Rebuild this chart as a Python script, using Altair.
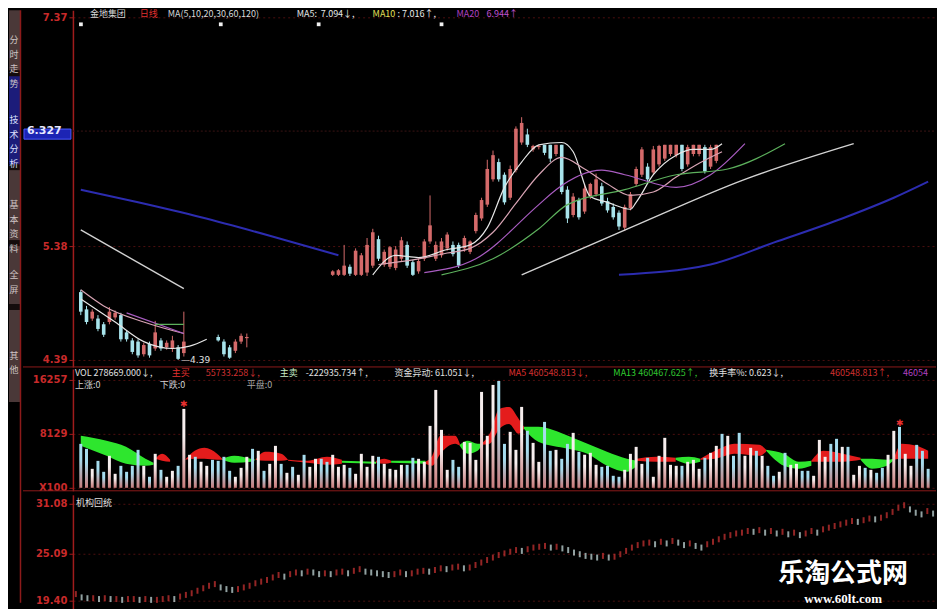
import altair as alt
import pandas as pd

# ---------------- layout constants ----------------
X_DOMAIN = [-0.5, 148.5]
W = 864
H1, H2, H3 = 357, 122, 114
AX_EXT = 50
RED_TXT = "#c82a2a"
AXIS_RED = "#a01c1c"
UP_COL = "#d46a6a"
DN_COL = "#a8e4ec"

# ---------------- price candles ----------------
candle_day = list(range(0, 19)) + list(range(24, 30)) + list(range(44, 112))
candle_open = [4.98, 4.83, 4.75, 4.75, 4.70, 4.72, 4.76, 4.78, 4.63, 4.56, 4.55, 4.44, 4.53, 4.49, 4.56, 4.50, 4.49, 4.50, 4.45,
               4.59, 4.55, 4.50, 4.47, 4.55, 4.58,
               5.13, 5.13, 5.13, 5.20, 5.13, 5.13, 5.15, 5.21, 5.44, 5.22, 5.20, 5.19, 5.27, 5.39, 5.24, 5.16, 5.27, 5.42, 5.27, 5.30,
               5.36, 5.39, 5.39, 5.36, 5.33, 5.51, 5.62, 5.74, 5.96, 6.11, 6.00, 5.80, 6.04, 6.28, 6.35, 6.22,
               6.24, 6.26, 6.26, 6.18, 6.26, 5.87, 5.65, 5.78, 5.68, 5.81, 5.83, 5.90, 5.77, 5.72, 5.67, 5.54, 5.71, 5.92, 6.00, 6.07,
               6.02, 6.09, 6.14, 6.18, 6.17, 6.26, 6.09, 6.18, 6.18, 6.24, 6.07, 6.12]
candle_high = [5.00, 4.86, 4.83, 4.78, 4.72, 4.85, 4.82, 4.80, 4.65, 4.58, 4.57, 4.54, 4.55, 4.73, 4.58, 4.56, 4.60, 4.52, 4.81,
               4.61, 4.57, 4.52, 4.57, 4.62, 4.62,
               5.17, 5.18, 5.39, 5.22, 5.36, 5.32, 5.45, 5.53, 5.47, 5.35, 5.38, 5.38, 5.46, 5.42, 5.26, 5.27, 5.44, 5.82, 5.42, 5.45,
               5.50, 5.42, 5.41, 5.47, 5.43, 5.67, 5.80, 6.13, 6.21, 6.14, 6.02, 6.08, 6.42, 6.50, 6.40, 6.26,
               6.26, 6.26, 6.26, 6.26, 6.26, 5.90, 5.84, 5.80, 5.92, 5.93, 6.01, 5.93, 5.80, 5.75, 5.69, 5.74, 5.85, 6.07, 6.24, 6.10,
               6.25, 6.26, 6.26, 6.26, 6.26, 6.26, 6.26, 6.26, 6.26, 6.26, 6.26, 6.26]
candle_low = [4.78, 4.70, 4.73, 4.64, 4.59, 4.70, 4.74, 4.55, 4.55, 4.44, 4.41, 4.42, 4.41, 4.47, 4.47, 4.48, 4.46, 4.39, 4.42,
              4.55, 4.42, 4.40, 4.45, 4.53, 4.50,
              5.12, 5.12, 5.12, 5.12, 5.12, 5.12, 5.12, 5.19, 5.25, 5.20, 5.18, 5.17, 5.25, 5.19, 5.12, 5.14, 5.25, 5.40, 5.25, 5.28,
              5.34, 5.29, 5.19, 5.33, 5.31, 5.49, 5.60, 5.72, 5.94, 5.94, 5.74, 5.78, 6.02, 6.26, 6.24, 6.20,
              6.22, 6.17, 6.11, 6.16, 5.83, 5.58, 5.63, 5.61, 5.66, 5.79, 5.81, 5.73, 5.67, 5.61, 5.52, 5.51, 5.69, 5.90, 5.98, 5.94,
              6.00, 6.07, 6.12, 6.16, 6.15, 6.03, 6.07, 6.16, 6.16, 6.01, 6.05, 6.10]
candle_close = [4.81, 4.72, 4.81, 4.66, 4.61, 4.81, 4.80, 4.57, 4.57, 4.46, 4.43, 4.52, 4.43, 4.63, 4.49, 4.54, 4.56, 4.40, 4.55,
                4.56, 4.44, 4.41, 4.55, 4.60, 4.59,
                5.16, 5.17, 5.21, 5.14, 5.34, 5.30, 5.39, 5.50, 5.27, 5.33, 5.37, 5.35, 5.43, 5.21, 5.13, 5.25, 5.42, 5.56, 5.39, 5.42,
                5.48, 5.31, 5.21, 5.45, 5.42, 5.65, 5.78, 6.05, 6.17, 5.96, 5.76, 6.05, 6.40, 6.45, 6.26, 6.25,
                6.25, 6.19, 6.14, 6.26, 5.85, 5.62, 5.81, 5.63, 5.88, 5.92, 5.96, 5.75, 5.69, 5.63, 5.55, 5.72, 5.83, 6.05, 6.22, 5.96,
                6.22, 6.25, 6.26, 6.26, 6.26, 6.05, 6.24, 6.26, 6.26, 6.03, 6.24, 6.26]

# ---------------- moving averages (readings) ----------------
ma_names = ["MA5", "MA10", "MA20", "MA30", "MA60", "MA120"]
ma_colors = ["#e6e6e6", "#d8a4b4", "#a85cc0", "#5cb05c", "#d2d2d2", "#2c2cb0"]
ma_widths = [1.2, 1.2, 1.2, 1.2, 1.4, 2.0]
ma5_a_day = [0, 6, 11, 16, 19, 22]
ma5_a_val = [4.92, 4.72, 4.55, 4.49, 4.51, 4.57]
ma5_b_day = [51, 55, 59, 64, 68, 71, 74, 77, 80, 84, 86, 89, 92, 96, 97, 100, 104, 107, 110, 112]
ma5_b_val = [5.13, 5.30, 5.28, 5.35, 5.39, 5.54, 5.89, 6.11, 6.26, 6.28, 6.20, 5.81, 5.76, 5.70, 5.76, 6.00, 6.17, 6.22, 6.22, 6.27]
ma10_a_day = [0, 4, 11, 18]
ma10_a_val = [5.00, 4.86, 4.72, 4.62]
ma10_b_day = [52, 58, 64, 68, 72, 76, 80, 84, 88, 92, 96, 100, 104, 108, 112]
ma10_b_val = [5.22, 5.26, 5.32, 5.36, 5.50, 5.75, 6.00, 6.15, 6.05, 5.92, 5.82, 5.85, 5.98, 6.10, 6.20]
ma20_a_day = [8, 18]
ma20_a_val = [4.80, 4.62]
ma20_b_day = [60, 69, 80, 83, 91, 95, 104, 110, 116]
ma20_b_val = [5.15, 5.27, 5.74, 5.87, 6.04, 6.00, 5.89, 6.00, 6.27]
ma30_a_day = [13, 18]
ma30_a_val = [4.70, 4.70]
ma30_b_day = [63, 72, 80, 85, 95, 104, 113, 123]
ma30_b_val = [5.13, 5.27, 5.53, 5.74, 5.87, 6.00, 6.05, 6.27]
ma60_a_day = [0, 18]
ma60_a_val = [5.52, 5.01]
ma60_b_day = [77, 96, 116, 135]
ma60_b_val = [5.13, 5.54, 5.96, 6.27]
ma120_a_day = [0, 10, 21, 33, 45]
ma120_a_val = [5.87, 5.76, 5.63, 5.47, 5.30]
ma120_b_day = [94, 110, 121, 133, 142, 148]
ma120_b_val = [5.13, 5.22, 5.41, 5.62, 5.80, 5.94]

# ---------------- volume ----------------
volume = [6620, 5870, 2860, 4060, 2410, 4820, 2110, 3310, 2410, 3310, 5720, 3310, 1660, 5120, 2710, 1660, 2560, 3310, 11890, 4970,
          4670, 3910, 3310, 4210, 4060, 4670, 2560, 1660, 3010, 4670, 5870, 5570, 2560, 3610, 6320, 3610, 2260, 3160, 1960, 4970,
          3160, 4370,
          4370, 3910, 4970, 3160, 3460, 3010, 2110, 5120, 3160, 4820, 4670, 3610, 2860, 2710, 3460, 3460, 4520, 4370, 3910, 9330,
          14750, 8730, 2710, 4210, 3160, 6920, 6770, 4210, 14450, 7830, 15500, 16100, 6620, 8430, 5720, 12190, 8580, 6770, 3910, 9930,
          5570, 5720, 4370, 6620, 8280, 5420, 4970, 5270, 3460, 3160, 3310, 1810, 1660, 2710, 5120, 6170,
          3610, 4520, 1660, 4820, 7530, 3460, 3310, 3310, 3910, 4210, 2860, 4520, 5270, 6320, 8130, 7830, 4820, 8280, 4820, 6020,
          5570, 4820, 3310, 1810, 2410, 5270, 3460, 3610, 2560, 2560, 1810, 7220, 4670, 6620, 7380, 6170, 6170, 1960, 3310, 3010,
          2710, 2260, 3010, 4970, 8580, 9180, 5120, 3310, 6470, 5570, 2860]
volume_dir = ("ddudduuddddududuudu" + "uduud" + "ddduuu" + "duduudududuudd"
              + "uuuduuuudu" + "uuudduuuuu" + "udduuuuuud" + "duuudu"
              + "uddudduduu" + "udddduuuud" + "uuuuuduuud" + "uu"
              + "dudduududd" + "uduudduuud" + "duduududdu" + "uduuddd")
vol_mark_day = [18, 143]
vol_mark_val = [12600, 9800]

# volume bands (green / red ribbons)
band_kind = "grrgrrgrgrgrgrgrgrgr"
band_day = [[0, 4.5, 7.9, 11.3, 12.7], [13, 14.2, 15.6], [18.2, 19.9, 21.6, 23.8, 24.7], [24.7, 26.8, 29.7, 30.5],
            [30.5, 32.2, 35, 36.2], [36.2, 39.6, 43, 45.6], [45.6, 51.6], [51.6, 53, 54.2], [54.2, 60.2],
            [60.2, 61.4, 62.8, 65.4, 66.2], [66.2, 67.6, 69.3, 70], [70, 71.4, 73.1, 74.8, 76.5, 77.4],
            [77.4, 79.9, 85.1, 88.5, 91.9, 95.4, 97.1], [97.1, 100.5, 103.9], [103.9, 106.2, 108.2],
            [108.2, 110.8, 114.2, 118.5, 119.7], [119.7, 122.8, 125.4, 127.6], [127.6, 129.7, 133.1, 136.2],
            [136.2, 138.2, 140.8, 142], [142, 143.4, 146, 148]]
band_hi = [[7826, 7074, 6171, 4365, 3763], [4365, 5117, 4214], [4214, 5569, 6020, 5117, 4365], [4365, 4816, 4365, 4214],
           [4214, 5418, 5117, 4214], [4214, 4064, 4666, 4214], [4064, 3913], [4064, 4365, 4064], [4064, 4064],
           [3913, 4816, 7826, 7826, 6622], [6472, 7074, 6622, 6622], [6622, 8127, 11890, 12190, 10385, 9181],
           [9181, 9181, 7826, 6622, 5418, 4365, 4064], [4365, 4666, 4515], [4515, 4666, 4365],
           [4365, 5569, 6622, 6472, 5719], [5719, 5117, 3913, 4064], [4064, 5569, 5117, 4515],
           [4365, 4365, 4214, 4365], [4365, 6622, 6321, 5569]]
band_lo = [[6321, 4816, 3612, 3311, 3462], [4365, 4064, 3913], [4214, 4365, 4365, 4214, 4214], [4214, 3763, 3913, 4214],
           [4214, 4064, 4064, 4214], [4064, 3763, 3462, 3612], [3763, 3612], [3763, 3612, 3763], [3763, 3612],
           [3612, 3311, 5117, 6622, 6321], [6321, 5117, 5569, 6321], [6472, 6622, 8880, 9632, 8127, 8880],
           [8880, 6923, 5870, 5117, 3311, 2408, 3311], [4064, 3913, 3913], [4214, 3612, 3913],
           [4214, 4365, 5117, 4816, 5418], [5569, 3311, 2860, 3311], [3913, 3913, 3913, 4214],
           [4214, 2860, 3311, 4214], [4214, 4365, 4365, 4365]]

# ---------------- lower indicator (机构回统) ----------------
inst_value = ([20.2, 19.8, 19.7, 19.7, 19.6, 19.7, 19.6, 19.6, 19.5, 19.6, 19.6, 19.5, 19.6, 19.5, 19.5, 19.6, 19.7, 19.6]
              + [19.9, 20.1, 20.3, 20.6, 20.9, 21.2, 21.4]
              + [21.0, 20.8, 20.7, 20.8]
              + [21.0, 21.2, 21.5, 21.7, 21.9, 22.2, 22.5, 22.3, 22.6, 22.8, 22.7, 22.9, 22.8, 22.6]
              + [22.7, 22.6, 22.8, 22.9, 22.7, 23.0, 23.2, 22.9, 22.8, 22.7, 22.6, 22.5, 22.6, 22.8, 22.6, 22.7, 22.9, 23.0, 22.9]
              + [23.1, 23.3, 23.2, 23.4, 23.5, 23.3, 23.4]
              + [23.7, 24.0, 24.3, 24.6, 24.9, 25.1, 25.3, 25.5, 25.4, 25.6, 25.8]
              + [25.9, 26.0, 25.8, 25.9, 25.7]
              + [25.5, 25.2, 25.0, 24.8, 24.7, 24.6, 24.8, 24.6, 24.7]
              + [25.0, 25.4, 25.8, 26.1, 26.3]
              + [26.4, 26.2, 26.5, 26.3, 26.6, 26.4, 26.1, 26.3, 26.0, 25.8, 26.2, 26.5]
              + [26.8, 27.1, 27.3, 27.5, 27.6, 27.8, 27.7, 27.9, 27.6, 27.8, 27.5, 27.7]
              + [27.4, 27.6, 27.3, 27.5, 27.8, 27.6, 28.0, 28.2, 28.4]
              + [28.6, 28.8, 29.0, 28.9, 29.1, 29.3, 29.2, 29.4]
              + [29.7, 30.1, 30.6, 30.9]
              + [30.4, 30.0, 29.8, 30.2, 29.9])

# ---------------- tables ----------------
candles = pd.DataFrame({"day": candle_day, "o": candle_open, "h": candle_high,
                        "l": candle_low, "c": candle_close})
candles["col"] = [UP_COL if c >= o else DN_COL for o, c in zip(candles["o"], candles["c"])]

ma_rows = []
ma_segments = [
    ("MA5", ma5_a_day, ma5_a_val), ("MA5", ma5_b_day, ma5_b_val),
    ("MA10", ma10_a_day, ma10_a_val), ("MA10", ma10_b_day, ma10_b_val),
    ("MA20", ma20_a_day, ma20_a_val), ("MA20", ma20_b_day, ma20_b_val),
    ("MA30", ma30_a_day, ma30_a_val), ("MA30", ma30_b_day, ma30_b_val),
    ("MA60", ma60_a_day, ma60_a_val), ("MA60", ma60_b_day, ma60_b_val),
    ("MA120", ma120_a_day, ma120_a_val), ("MA120", ma120_b_day, ma120_b_val),
]
ma_col = dict(zip(ma_names, ma_colors))
ma_w = dict(zip(ma_names, ma_widths))
for si, (nm, dd, vv) in enumerate(ma_segments):
    for d, v in zip(dd, vv):
        ma_rows.append({"name": nm, "seg": f"s{si}", "day": d, "val": v, "col": ma_col[nm], "w": ma_w[nm]})
ma_df = pd.DataFrame(ma_rows)

vol_df = pd.DataFrame([{"day": i, "vol": v, "dir": d} for i, (v, d) in enumerate(zip(volume, volume_dir))])
volmark_df = pd.DataFrame({"day": vol_mark_day, "v": vol_mark_val})

band_colors = {"g": "#2ee62e", "r": "#e41c1c"}
band_rows = []
for g, (k, dd, hh, ll) in enumerate(zip(band_kind, band_day, band_hi, band_lo)):
    for d, h, l in zip(dd, hh, ll):
        band_rows.append({"grp": g, "col": band_colors[k], "day": d, "hi": h, "lo": l})
band_df = pd.DataFrame(band_rows)

inst_rows = []
prev = None
for i, v in enumerate(inst_value):
    inst_rows.append({"day": i, "v": v, "col": "#d23434" if (prev is None or v >= prev) else "#cfe6e6"})
    prev = v
inst_df = pd.DataFrame(inst_rows)

one = pd.DataFrame({"a": [0]})

# ---------------- helpers ----------------
def xenc(field="day"):
    return alt.X(f"{field}:Q", scale=alt.Scale(domain=X_DOMAIN, nice=False, zero=False), axis=None)


def make_axis(values, fmt, expr=None):
    kw = dict(values=values, format=fmt, title=None, labelColor=RED_TXT, labelFont="DejaVu Sans",
              labelFontSize=10, labelFontWeight="bold", domainColor=AXIS_RED, domainWidth=1.5,
              tickColor=AXIS_RED, tickSize=4, labelPadding=2, grid=True, gridColor="#4c0f0f",
              gridDash=[2, 3], gridWidth=1, minExtent=AX_EXT, maxExtent=AX_EXT)
    if expr:
        kw["labelExpr"] = expr
    return alt.Axis(**kw)


def label(x, y, text, color, size=9, font="Noto Sans CJK SC", weight="normal", baseline="top", align="left"):
    return alt.Chart(one).mark_text(text=text, align=align, baseline=baseline, fontSize=size, font=font,
                                    fontWeight=weight, color=color).encode(x=alt.value(x), y=alt.value(y))


raw_color = alt.Color("col:N", scale=None, legend=None)

# ---------------- panel 1: price ----------------
p_scale = alt.Scale(domain=[4.3297, 7.4286], nice=False, zero=False)
p_axis = make_axis([4.39, 5.38, 7.37], ".2f")


def yP(f):
    return alt.Y(f"{f}:Q", scale=p_scale, axis=p_axis)


cur_df = pd.DataFrame({"v": [6.327], "lo": [6.257], "hi": [6.397]})

p1_layers = [
    alt.Chart(cur_df).mark_rule(color="#3a1414", strokeDash=[2, 2], yOffset=-6).encode(
        y=yP("v"), x=alt.value(0), x2=alt.value(W)),
    alt.Chart(candles).mark_rule(strokeWidth=1).encode(x=xenc(), y=yP("l"), y2="h", color=raw_color),
    alt.Chart(candles).mark_bar(size=3.6).encode(x=xenc(), y=yP("o"), y2="c", color=raw_color),
    alt.Chart(ma_df).mark_line(clip=True, interpolate="monotone").encode(
        x=xenc(), y=yP("val"), color=raw_color,
        strokeWidth=alt.StrokeWidth("w:Q", scale=None, legend=None),
        detail="seg:N"),
    alt.Chart(pd.DataFrame({"day": [17], "v": [4.39]})).mark_text(
        text="—4.39", align="left", dx=3, fontSize=9, font="DejaVu Sans", color="#e0e0e0").encode(
        x=xenc(), y=yP("v")),
    alt.Chart(cur_df).mark_rect(color="#1c24b4", stroke="#4a58ff", strokeWidth=1, yOffset=-6).encode(
        y=yP("lo"), y2="hi", x=alt.value(-AX_EXT + 1), x2=alt.value(-2)),
    alt.Chart(cur_df).mark_text(text="6.327", align="left", fontSize=11, font="DejaVu Sans",
                                fontWeight="bold", color="#e8e8ff", yOffset=-6).encode(
        y=yP("v"), x=alt.value(-AX_EXT + 4)),
    alt.Chart(one).mark_rule(color="#8c1a1a", strokeWidth=1).encode(
        x=alt.value(-AX_EXT), x2=alt.value(W), y=alt.value(H1)),
]
for sx in [8, 148, 246, 369]:
    p1_layers.append(alt.Chart(one).mark_square(size=14, color="#f0f0f0", opacity=1).encode(
        x=alt.value(sx), y=alt.value(14)))
hdr1 = [(17, "金地集团", "#d8d8d8"), (67, "日线", "#e03030"), (95, "MA(5,10,20,30,60,120)", "#d8d8d8"),
        (224, "MA5:", "#e8e8e8"), (248, "7.094↓,", "#e8e8e8"), (300, "MA10", "#e6e05a"),
        (325, ": 7.016↑,", "#e8e8e8"), (384, "MA20", "#b040c0"), (414, "6.944↑", "#c050d0")]
for hx, ht, hc in hdr1:
    p1_layers.append(label(hx, 0, ht, hc))

p1 = alt.layer(*p1_layers).properties(width=W, height=H1)

# ---------------- panel 2: volume ----------------
v_scale = alt.Scale(domain=[-451, 17910], nice=False, zero=False)
v_axis = make_axis([0, 8129, 16257], "d", "datum.value == 0 ? 'X100' : format(datum.value, 'd')")


def yV(f):
    return alt.Y(f"{f}:Q", scale=v_scale, axis=v_axis)


def grad(top):
    return alt.Gradient(gradient="linear",
                        stops=[alt.GradientStop(color=top, offset=0),
                               alt.GradientStop(color=top, offset=0.35),
                               alt.GradientStop(color="#c87c7c", offset=1)],
                        x1=0, x2=0, y1=0, y2=1)


p2_layers = [
    alt.Chart(band_df).mark_area(interpolate="monotone", opacity=1).encode(
        x=xenc(), y=yV("hi"), y2="lo", color=raw_color, detail="grp:N"),
    alt.Chart(vol_df).transform_filter("datum.dir == 'u'").mark_bar(size=3, color=grad("#f6eeee")).encode(
        x=xenc(), y=yV("vol"), y2=alt.datum(0)),
    alt.Chart(vol_df).transform_filter("datum.dir == 'd'").mark_bar(size=3, color=grad("#a6dcee")).encode(
        x=xenc(), y=yV("vol"), y2=alt.datum(0)),
    alt.Chart(volmark_df).mark_text(text="✱", fontSize=9, color="#e83030").encode(x=xenc(), y=yV("v")),
    alt.Chart(one).mark_rule(color="#8c1a1a", strokeWidth=1).encode(
        x=alt.value(-AX_EXT), x2=alt.value(W), y=alt.value(H2)),
]
hdr2a = [(2, "VOL 278669.000↓,", "#e0e0e0"), (99, "主买", "#e03030"), (133, "55733.258↓,", "#d03030"),
         (207, "主卖", "#c8f0c8"), (233, "-222935.734↑,", "#e0e0e0"), (322, "资金异动: 61.051↓,", "#e0e0e0"),
         (436, "MA5", "#e03030"), (456, "460548.813↓,", "#d03030"), (541, "MA13", "#30d030"),
         (566, "460467.625↑,", "#30c030"), (637, "换手率%: 0.623↓,", "#e0e0e0"),
         (758, "460548.813↑,", "#d03030"), (831, "46054", "#b040c0")]
for hx, ht, hc in hdr2a:
    p2_layers.append(label(hx, 0, ht, hc))
hdr2b = [(2, "上涨:0", "#d0d0d0"), (87, "下跌:0", "#d0d0d0"), (174, "平盘:0", "#a8a8a8")]
for hx, ht, hc in hdr2b:
    p2_layers.append(label(hx, 12, ht, hc))

p2 = alt.layer(*p2_layers).properties(width=W, height=H2)

# ---------------- panel 3: indicator ----------------
i_scale = alt.Scale(domain=[18.44, 32.16], nice=False, zero=False)
i_axis = make_axis([19.40, 25.09, 31.08], ".2f")

p3_layers = [
    alt.Chart(inst_df).mark_tick(orient="vertical", size=6, thickness=2).encode(
        x=xenc(), y=alt.Y("v:Q", scale=i_scale, axis=i_axis), color=raw_color),
    label(3, 4, "机构回统", "#e0e0e0"),
    label(771, 79, "乐淘公式网", "#ffffff", size=26, weight="bold", baseline="middle", align="center"),
    label(771, 104, "www.60lt.com", "#ffffff", size=13, font="Liberation Serif", weight="bold",
          baseline="middle", align="center"),
]
p3 = alt.layer(*p3_layers).properties(width=W, height=H3)

# ---------------- left tab strip ----------------
TAB_H = H1 + H2 + H3
tab_bg = [(0, 60, "#4a3838"), (66, 154, "#1c1c7a"), (160, 230, "#4a3838"), (236, 294, "#4a3838"), (300, 392, "#4a3838")]
tab_txt = [("分时走势", 30, "#cfc4c4"), ("技术分析", 110, "#dfe0ff"), ("基本资料", 195, "#cfc4c4"),
           ("全屏", 265, "#cfc4c4"), ("其他", 346, "#cfc4c4")]
tab_layers = [alt.Chart(one).mark_rect(color="#140c0c").encode(
    x=alt.value(0), x2=alt.value(11), y=alt.value(0), y2=alt.value(392))]
for y0, y1, col in tab_bg:
    tab_layers.append(alt.Chart(one).mark_rect(color=col).encode(
        x=alt.value(0), x2=alt.value(11), y=alt.value(y0), y2=alt.value(y1)))
for txt, cy, col in tab_txt:
    tab_layers.append(alt.Chart(one).mark_text(text=list(txt), lineHeight=14.5, fontSize=9, font="Noto Sans CJK SC",
                                               baseline="middle", align="center", color=col).encode(
        x=alt.value(5), y=alt.value(cy)))
tab_layers.append(alt.Chart(one).mark_rule(color="#8c1a1a", strokeWidth=1.5).encode(
    x=alt.value(11.5), y=alt.value(0), y2=alt.value(TAB_H)))
tabs = alt.layer(*tab_layers).properties(width=12, height=TAB_H)

chart = alt.hconcat(
    tabs,
    alt.vconcat(p1, p2, p3, spacing=0),
    spacing=0,
).properties(padding=0).configure(background="#000000").configure_view(stroke="transparent")

chart.save("out.html", embed_options={"renderer": "svg", "actions": False})
